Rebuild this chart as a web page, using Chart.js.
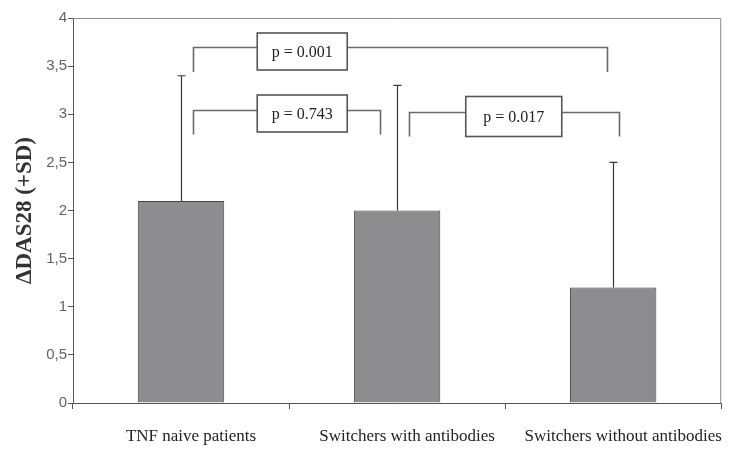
<!DOCTYPE html>
<html>
<head>
<meta charset="utf-8">
<script src="https://cdn.jsdelivr.net/npm/chart.js@4.4.1/dist/chart.umd.min.js"></script>
<style>
  html, body { margin: 0; padding: 0; background: #ffffff; }
  #wrap { width: 730px; height: 449px; }
</style>
</head>
<body>
<div id="wrap"><canvas id="c" width="730" height="449"></canvas></div>
<script>
// Groups and ΔDAS28 change per group
const groups = ['TNF naive patients', 'Switchers with antibodies', 'Switchers without antibodies'];
const meanDAS28 = [2.1, 2.0, 1.2];
const sdDAS28 = [1.3, 1.3, 1.3];

// Pairwise comparisons (group indices) and their p-values
const compareFrom = [0, 0, 1];
const compareTo = [2, 1, 2];
const pValues = ['0.001', '0.743', '0.017'];

// Y-axis tick values
const yTicks = [0, 0.5, 1, 1.5, 2, 2.5, 3, 3.5, 4];

// Drawing layout of each comparison bracket:
// left/right: leg offsets from the group centres (category units)
// line/leg: heights of the bar and leg ends (axis units)
// boxAt: label box centre, measured from the first group centre (category units)
const bracketLayout = [
  { left: 0.054, right: -0.027, line: 3.70, leg: 3.44, boxAt: 0.561, boxW: 90, boxH: 37, boxDy: 4 },
  { left: 0.054, right: -0.079, line: 3.04, leg: 2.79, boxAt: 0.561, boxW: 90, boxH: 37, boxDy: 3 },
  { left: 0.055, right: 0.029, line: 3.02, leg: 2.77, boxAt: 1.540, boxW: 96, boxH: 40, boxDy: 4 }
];

const errorBars = {
  id: 'errorBars',
  afterDatasetsDraw(chart) {
    const ctx = chart.ctx;
    const meta = chart.getDatasetMeta(0);
    const y = chart.scales.y;
    ctx.save();
    ctx.strokeStyle = '#3a3a3a';
    ctx.lineWidth = 1.2;
    meta.data.forEach((bar, i) => {
      const x = Math.round(bar.x) + 0.5;
      const yBase = y.getPixelForValue(meanDAS28[i]);
      const yTop = y.getPixelForValue(meanDAS28[i] + sdDAS28[i]);
      ctx.beginPath();
      ctx.moveTo(x, yBase);
      ctx.lineTo(x, yTop);
      ctx.moveTo(x - 4, yTop);
      ctx.lineTo(x + 4, yTop);
      ctx.stroke();
    });
    ctx.restore();
  }
};

const frame = {
  id: 'frame',
  beforeDatasetsDraw(chart) {
    const a = chart.chartArea;
    const ctx = chart.ctx;
    ctx.save();
    ctx.strokeStyle = '#8a8a8a';
    ctx.lineWidth = 1;
    ctx.beginPath();
    ctx.moveTo(a.left, a.top + 0.5);
    ctx.lineTo(a.right - 0.5, a.top + 0.5);
    ctx.lineTo(a.right - 0.5, a.bottom);
    ctx.stroke();
    ctx.restore();
  }
};

const brackets = {
  id: 'brackets',
  afterDraw(chart) {
    const ctx = chart.ctx;
    const x = chart.scales.x;
    const y = chart.scales.y;
    const catW = (x.right - x.left) / groups.length;
    const first = x.getPixelForValue(0);
    ctx.save();
    pValues.forEach((p, i) => {
      const L = bracketLayout[i];
      const x1 = Math.round(x.getPixelForValue(compareFrom[i]) + L.left * catW) + 0.5;
      const x2 = Math.round(x.getPixelForValue(compareTo[i]) + L.right * catW) + 0.5;
      const yl = Math.round(y.getPixelForValue(L.line)) + 0.5;
      const yg = y.getPixelForValue(L.leg);
      ctx.strokeStyle = '#6a6a6a';
      ctx.lineWidth = 1.6;
      ctx.beginPath();
      ctx.moveTo(x1, yg);
      ctx.lineTo(x1, yl);
      ctx.lineTo(x2, yl);
      ctx.lineTo(x2, yg);
      ctx.stroke();
      const bx = first + L.boxAt * catW;
      const by = yl + L.boxDy;
      ctx.fillStyle = '#ffffff';
      ctx.fillRect(bx - L.boxW / 2, by - L.boxH / 2, L.boxW, L.boxH);
      ctx.strokeStyle = '#555555';
      ctx.lineWidth = 1.6;
      ctx.strokeRect(bx - L.boxW / 2, by - L.boxH / 2, L.boxW, L.boxH);
      ctx.fillStyle = '#222222';
      ctx.font = '16px "Liberation Serif", "DejaVu Serif", serif';
      ctx.textAlign = 'center';
      ctx.textBaseline = 'middle';
      ctx.fillText('p = ' + p, bx, by + 1);
    });
    ctx.restore();
  }
};

new Chart(document.getElementById('c'), {
  type: 'bar',
  data: {
    labels: groups,
    datasets: [{
      data: meanDAS28,
      backgroundColor: '#8d8d8f',
      borderColor: '#454545',
      borderWidth: 1,
      categoryPercentage: 1,
      barPercentage: 0.4
    }]
  },
  options: {
    responsive: false,
    animation: false,
    devicePixelRatio: 1,
    layout: { padding: { left: 0, top: 18, right: 7, bottom: 0 } },
    plugins: { legend: { display: false }, tooltip: { enabled: false } },
    scales: {
      x: {
        offset: true,
        grid: { display: true, offset: true, drawOnChartArea: false, tickLength: 6, color: '#555555', lineWidth: 1 },
        border: { color: '#555555', width: 1 },
        ticks: {
          color: '#222222',
          padding: 17,
          labelOffset: 10,
          maxRotation: 0,
          font: { family: '"Liberation Serif", "DejaVu Serif", serif', size: 17 }
        },
        afterFit(scale) { scale.height = 46; }
      },
      y: {
        min: 0,
        max: 4,
        afterBuildTicks(scale) { scale.ticks = yTicks.map(v => ({ value: v })); },
        grid: { display: true, drawOnChartArea: false, tickLength: 5, color: '#555555', lineWidth: 1 },
        border: { color: '#555555', width: 1 },
        ticks: {
          color: '#636363',
          padding: 1,
          font: { family: '"Liberation Sans", Arial, sans-serif', size: 15 },
          callback: v => String(v).replace('.', ',')
        },
        title: {
          display: true,
          text: 'ΔDAS28 (+SD)',
          color: '#333333',
          font: { family: '"Liberation Serif", "DejaVu Serif", serif', size: 23, weight: 'bold' },
          padding: { top: 11, bottom: 0 }
        },
        afterFit(scale) { scale.width = 73; }
      }
    }
  },
  plugins: [frame, errorBars, brackets]
});
</script>
</body>
</html>
